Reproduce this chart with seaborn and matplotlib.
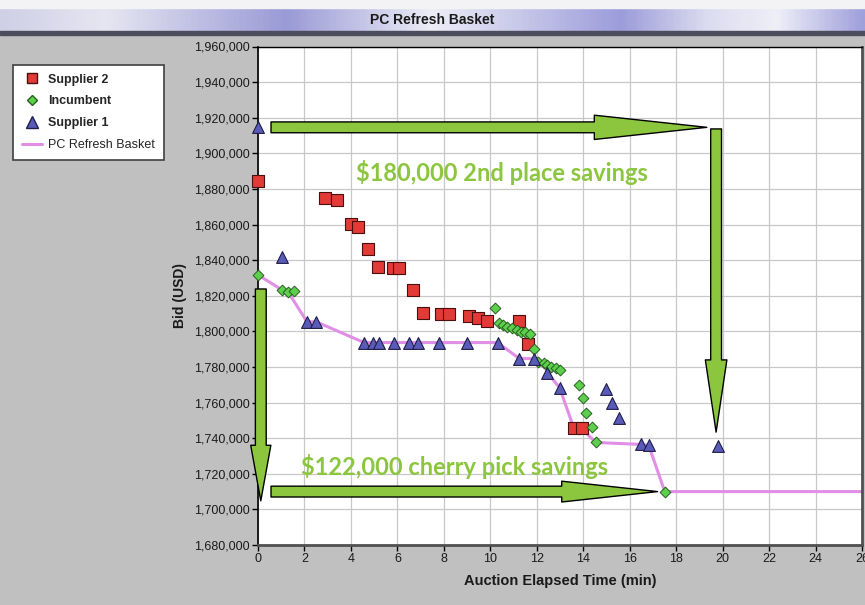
import numpy as np
import pandas as pd
import matplotlib
matplotlib.use("Agg")
import matplotlib.pyplot as plt
from matplotlib.colors import LinearSegmentedColormap
from matplotlib.lines import Line2D
from matplotlib.patches import Rectangle
from matplotlib.ticker import FuncFormatter
import seaborn as sns

sns.set_theme(style="white")
plt.rcParams['font.family'] = ['Liberation Sans', 'DejaVu Sans']

# ---- bids (elapsed minutes, bid USD) ----
supplier2_time = [0.0, 2.89, 3.41, 4.01, 4.31, 4.74, 5.17, 5.82, 6.08, 6.68,
                  7.12, 7.89, 8.24, 9.10, 9.49, 9.87, 11.25, 11.64, 13.60, 13.93]
supplier2_bid = [1884400, 1874900, 1873800, 1860400, 1858700, 1846400, 1836200,
                 1835600, 1835600, 1823300, 1810400, 1809900, 1809900, 1808800,
                 1807600, 1806000, 1806000, 1793100, 1745500, 1745500]

incumbent_time = [0.0, 1.03, 1.29, 1.55, 10.22, 10.39, 10.56, 10.74, 10.95, 11.13,
                  11.30, 11.51, 11.69, 11.90, 12.07, 12.29, 12.46, 12.63, 12.81,
                  12.98, 13.80, 13.97, 14.14, 14.36, 14.53, 17.51]
incumbent_bid = [1831700, 1823300, 1822200, 1822700, 1813200, 1804800, 1803700,
                 1802600, 1802000, 1800900, 1799800, 1799800, 1798700, 1790300,
                 1783000, 1782400, 1781300, 1780200, 1779600, 1778500, 1770100,
                 1762300, 1754400, 1746000, 1737600, 1710000]

supplier1_time = [0.0, 1.03, 2.11, 2.50, 4.57, 4.96, 5.22, 5.86, 6.51, 6.90, 7.80,
                  9.01, 10.31, 11.25, 11.86, 12.46, 12.98, 15.00, 15.22, 15.52,
                  16.47, 16.82, 19.79]
supplier1_bid = [1914600, 1841800, 1805400, 1805400, 1793700, 1793700, 1793700,
                 1793700, 1793700, 1793700, 1793700, 1793700, 1793700, 1784700,
                 1784700, 1776800, 1768400, 1767900, 1759500, 1751600, 1736500,
                 1736000, 1735400]

auction_end = 26

# basket line = joins the bids that match or beat the best bid so far
bids = pd.DataFrame({
    "time": supplier2_time + incumbent_time + supplier1_time,
    "bid": supplier2_bid + incumbent_bid + supplier1_bid,
})
best = bids.groupby("time")["bid"].min()
basket = best[best <= best.cummin()]
basket.loc[auction_end] = basket.iloc[-1]
basket = basket.reset_index()

# annotation arrows: tail, tip, head length, head width
arrows = [
    ((0.56, 1914600), (19.32, 1914600), 8.1, 1.75),
    ((19.72, 1913700), (19.72, 1743400), 5.2, 1.55),
    ((0.12, 1823800), (0.12, 1704800), 4.0, 1.45),
    ((0.56, 1710000), (17.2, 1710000), 6.9, 1.5),
]

fig = plt.figure(figsize=(8.65, 6.05), dpi=100)
fig.patch.set_facecolor("#c0c0c0")

# title banner
fig.patches.append(Rectangle((0, 1 - 8 / 605), 1, 8 / 605, transform=fig.transFigure,
                             color="#f3f3f5", zorder=0))
band = fig.add_axes([0, 1 - 31 / 605, 1, 23 / 605])
band_cmap = LinearSegmentedColormap.from_list("band", [
    (0.0, "#cfcfe6"), (0.12, "#e6e6f2"), (0.33, "#9a9ad6"), (0.5, "#ededf7"),
    (0.72, "#9c9cda"), (0.82, "#dcdcf0"), (0.9, "#efeff8"), (1.0, "#a0a0dc")])
band.imshow(np.linspace(0, 1, 400)[None, :], cmap=band_cmap, aspect="auto")
band.set_axis_off()
band.text(0.5, 0.5, "PC Refresh Basket", transform=band.transAxes, ha="center",
          va="center", fontsize=10, fontweight="bold", color="#1a1a1a")
fig.patches.append(Rectangle((0, 1 - 35 / 605), 1, 4 / 605, transform=fig.transFigure,
                             color="#4c4c5c", zorder=2))

ax = fig.add_axes([258 / 865, 60 / 605, 604 / 865, 498.5 / 605])
ax.set_facecolor("white")

sns.lineplot(x=basket["time"], y=basket["bid"], color="#e08ee6", lw=2.2,
             estimator=None, sort=False, ax=ax, zorder=2)
sns.scatterplot(x=supplier2_time, y=supplier2_bid, marker="s", s=68, color="#e23a36",
                edgecolor="#4a1010", linewidth=0.8, ax=ax, zorder=4, clip_on=False)
sns.scatterplot(x=incumbent_time, y=incumbent_bid, marker="D", s=30, color="#5ccf4c",
                edgecolor="#2a5e22", linewidth=0.7, ax=ax, zorder=4, clip_on=False)
sns.scatterplot(x=supplier1_time, y=supplier1_bid, marker="^", s=72, color="#5a5ab8",
                edgecolor="#1e1e4a", linewidth=0.8, ax=ax, zorder=4, clip_on=False)

for tail, tip, head_len, head_w in arrows:
    ax.annotate("", xy=tip, xytext=tail, annotation_clip=False,
                arrowprops=dict(arrowstyle=f"simple,head_length={head_len},"
                                           f"head_width={head_w},tail_width=0.78",
                                fc="#8cc63f", ec="black", lw=1.0, shrinkA=0, shrinkB=0,
                                mutation_scale=10), zorder=5)

ax.text(10.5, 1889300, "$180,000 2nd place savings", ha="center", va="center",
        fontsize=17, fontweight="bold", color="#8cc63f", family=["Lato", "DejaVu Sans"], zorder=6)
ax.text(8.44, 1723900, "$122,000 cherry pick savings", ha="center", va="center",
        fontsize=17, fontweight="bold", color="#8cc63f", family=["Lato", "DejaVu Sans"], zorder=6)

ax.set_xlim(0, auction_end)
ax.set_ylim(1680000, 1960000)
ax.set_xticks(np.arange(0, 27, 2))
ax.set_yticks(np.arange(1680000, 1960001, 20000))
ax.yaxis.set_major_formatter(FuncFormatter(lambda v, p: f"{v:,.0f}"))
ax.grid(True, color="#c8c8c8", lw=0.9)
ax.set_axisbelow(True)
ax.tick_params(axis="both", which="major", direction="out", length=4, width=1,
               color="black", labelsize=9, labelcolor="#1a1a1a", pad=2,
               left=True, bottom=True)
ax.set_xlabel("Auction Elapsed Time (min)", fontsize=10.5, fontweight="bold",
              color="#1a1a1a", labelpad=6)
ax.set_ylabel("Bid (USD)", fontsize=10, fontweight="bold", color="#1a1a1a", labelpad=5)
ax.spines["left"].set(color="black", lw=1.2)
ax.spines["top"].set(color="black", lw=1.0)
ax.spines["bottom"].set(color="#505050", lw=2)
ax.spines["right"].set(color="#505050", lw=2)

handles = [
    Line2D([], [], ls="none", marker="s", ms=7, mfc="#e23a36", mec="#4a1010", label="Supplier 2"),
    Line2D([], [], ls="none", marker="D", ms=5, mfc="#5ccf4c", mec="#2a5e22", label="Incumbent"),
    Line2D([], [], ls="none", marker="^", ms=8, mfc="#5a5ab8", mec="#1e1e4a", label="Supplier 1"),
    Line2D([], [], color="#e08ee6", lw=2.2, label="PC Refresh Basket"),
]
leg = fig.legend(handles=handles, loc="upper left", bbox_to_anchor=(13 / 865, 1 - 65 / 605),
                 borderaxespad=0, fontsize=9, frameon=True, fancybox=False, framealpha=1,
                 edgecolor="#404040", handlelength=1.6, handletextpad=0.5, labelspacing=0.78,
                 borderpad=0.7)
leg.get_frame().set_linewidth(1.2)
for t in leg.get_texts()[:3]:
    t.set_fontweight("bold")

fig.savefig("out.png", dpi=100, facecolor=fig.get_facecolor())
